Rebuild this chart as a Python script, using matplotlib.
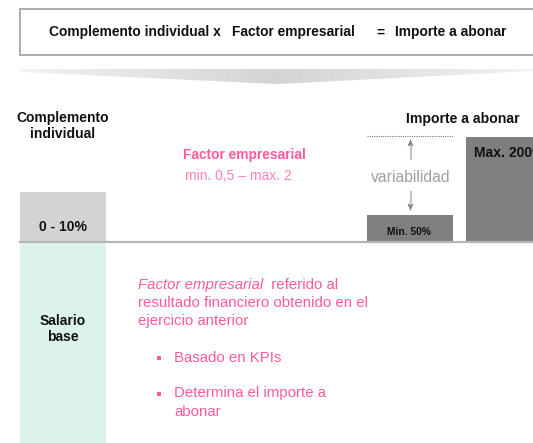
import matplotlib
matplotlib.use("Agg")
import matplotlib.pyplot as plt
from matplotlib.patches import Rectangle, Polygon
import numpy as np

# ---- data ----
bar_labels = ["0 - 10%", "Min. 50%", "Max. 200%"]
bar_heights = [49, 26, 104]          # visual heights above the baseline
formula_parts = ["Complemento individual x", "Factor empresarial", "=", "Importe a abonar"]
col_titles = ["Complemento", "individual", "Importe a abonar"]
factor_title = "Factor empresarial"
factor_range = "min. 0,5 \u2013 max. 2"
variab_label = "variabilidad"
base_label = ["Salario", "base"]
desc_italic = "Factor empresarial"
desc_rest = "  referido al"
desc_lines = ["resultado financiero obtenido en el", "ejercicio anterior"]
bullets = [["Basado en KPIs"], ["Determina el importe a", "abonar"]]

plt.rcParams['font.family'] = ['Liberation Sans', 'DejaVu Sans']

W, H = 533, 443
fig = plt.figure(figsize=(W / 100, H / 100), dpi=100)
ax = fig.add_axes([0, 0, 1, 1])
ax.set_xlim(0, W)
ax.set_ylim(H, 0)
ax.axis('off')

PINK = '#ff5a9e'
PINK_L = '#ff80b8'
DARK = '#111111'
BASE_Y = 241

# top formula box
ax.add_patch(Rectangle((20, 8.5), 530, 46, facecolor='white', edgecolor='#a6a6a6', lw=1.3))
fs_top = 9.9
ax.text(49, 32, formula_parts[0], fontsize=fs_top, fontweight='bold', va='center', ha='left', color=DARK)
ax.text(232, 32, formula_parts[1], fontsize=fs_top, fontweight='bold', va='center', ha='left', color=DARK)
ax.text(380, 32.5, formula_parts[2], fontsize=fs_top, fontweight='bold', va='center', ha='center', color=DARK)
ax.text(395, 32, formula_parts[3], fontsize=fs_top, fontweight='bold', va='center', ha='left', color=DARK)

# chevron banner with gradient
n = 80
xs = np.linspace(20, 533, n + 1)
TIP = 277
def bottom(x):
    if x <= TIP:
        return 72 + (84 - 72) * (x - 20) / (TIP - 20)
    return 84 - (84 - 71) * (x - TIP) / (533 - TIP)
for i in range(n):
    x0, x1 = xs[i], xs[i + 1]
    xm = 0.5 * (x0 + x1)
    d = abs(xm - TIP) / 260
    g = 0.83 + 0.12 * d
    ax.add_patch(Polygon([(x0, 69), (x1 + 0.5, 69), (x1 + 0.5, bottom(x1)), (x0, bottom(x0))],
                         closed=True, facecolor=(g, g, g), edgecolor='none'))

# mint column
ax.add_patch(Rectangle((20, BASE_Y), 86, H - BASE_Y, facecolor='#dcf3ec', edgecolor='none'))

# bars
bar_x = [20, 367, 466]
bar_w = [86, 86, 90]
bar_colors = ['#d3d3d3', '#7f7f7f', '#7f7f7f']
ax.bar(bar_x, [-h for h in bar_heights], width=bar_w, bottom=BASE_Y, align='edge',
       color=bar_colors, edgecolor='none')

# baseline
ax.plot([20, 533], [BASE_Y + 0.5, BASE_Y + 0.5], color='#b5b5b5', lw=1.6)

# bar labels
ax.text(63, 227, bar_labels[0], fontsize=10.1, fontweight='bold', ha='center', va='center', color=DARK)
ax.text(409, 232, bar_labels[1], fontsize=7.4, fontweight='bold', ha='center', va='center', color=DARK)
ax.text(474, 153, bar_labels[2], fontsize=10.1, fontweight='bold', ha='left', va='center', color=DARK)

# column titles
ax.text(63, 118, col_titles[0], fontsize=10.0, fontweight='bold', ha='center', va='center', color=DARK)
ax.text(63, 134, col_titles[1], fontsize=10.0, fontweight='bold', ha='center', va='center', color=DARK)
ax.text(462.5, 119, col_titles[2], fontsize=10.1, fontweight='bold', ha='center', va='center', color=DARK)

# dotted max line and arrows
ax.plot([367, 453], [136, 136], color='#777777', lw=0.8, ls=(0, (1, 1)))
ax.plot([410.5, 410.5], [145, 160], color='#c4c4c4', lw=1.6, solid_capstyle='butt')
ax.plot([410.5, 410.5], [191, 205], color='#c4c4c4', lw=1.6, solid_capstyle='butt')
ax.add_patch(Polygon([(410.5, 139), (407.5, 146), (413.5, 146)], closed=True,
                     facecolor='#8a8a8a', edgecolor='none'))
ax.add_patch(Polygon([(410.5, 211), (407.5, 204), (413.5, 204)], closed=True,
                     facecolor='#8a8a8a', edgecolor='none'))
ax.text(410.5, 177, variab_label, fontsize=11.3, ha='center', va='center', color='#a0a0a0')

# factor empresarial
ax.text(244.7, 155, factor_title, fontsize=9.9, fontweight='bold', ha='center', va='center', color=PINK)
ax.text(238, 176, factor_range, fontsize=10.0, ha='center', va='center', color=PINK_L)

# salario base
ax.text(63, 321, base_label[0], fontsize=10.0, fontweight='bold', ha='center', va='center', color=DARK)
ax.text(63, 337, base_label[1], fontsize=10.0, fontweight='bold', ha='center', va='center', color=DARK)

# description
fs_b = 10.8
t = ax.text(138, 285, desc_italic, fontsize=fs_b, style='italic', ha='left', va='center', color=PINK)
fig.canvas.draw()
bb = t.get_window_extent()
x_end = ax.transData.inverted().transform((bb.x1, bb.y0))[0]
ax.text(x_end, 285, desc_rest, fontsize=fs_b, ha='left', va='center', color=PINK)
for i, line in enumerate(desc_lines):
    ax.text(138, 303 + 18.3 * i, line, fontsize=fs_b, ha='left', va='center', color=PINK)

bullet_y = [358, 393.5]
for by, lines in zip(bullet_y, bullets):
    ax.add_patch(Rectangle((157, by - 2), 4, 4, facecolor=PINK, edgecolor='none'))
    for j, line in enumerate(lines):
        ax.text(174, by + 18.3 * j, line, fontsize=fs_b, ha='left', va='center', color=PINK)

fig.savefig('out.png', dpi=100)
